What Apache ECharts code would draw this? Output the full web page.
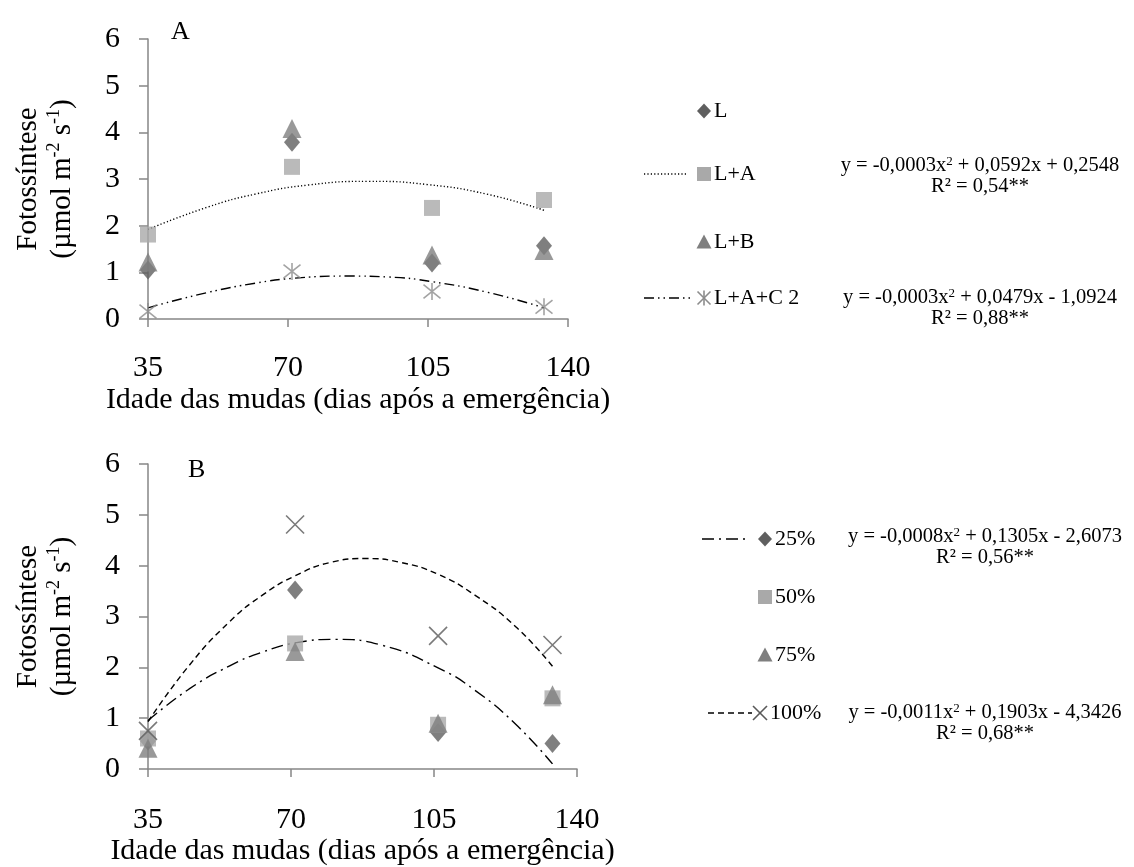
<!DOCTYPE html>
<html>
<head>
<meta charset="utf-8">
<script src="https://cdn.jsdelivr.net/npm/echarts@6/dist/echarts.min.js"></script>
<style>
html, body { margin: 0; padding: 0; background: #ffffff; }
#chart { width: 1134px; height: 867px; }
</style>
</head>
<body>
<div id="chart"></div>
<script>
// Seedling age at each sampling (days after emergence)
const ages = [35, 71, 106, 134];
const xTicks = [35, 70, 105, 140];
const yTicks = [0, 1, 2, 3, 4, 5, 6];

// Panel A: photosynthesis by substrate
const aL = [1.05, 3.79, 1.20, 1.57];
const aLA = [1.81, 3.26, 2.38, 2.55];
const aLB = [1.22, 4.08, 1.37, 1.47];
const aLAC2 = [0.16, 1.02, 0.59, 0.26];

// Panel A fitted curves, read along their path
const fitLAx = [35, 50, 62, 75, 90, 105, 120, 134];
const fitLAy = [1.92, 2.40, 2.68, 2.87, 2.95, 2.88, 2.67, 2.33];
const fitLAC2x = [35, 50, 62, 71, 85, 95, 106, 120, 134];
const fitLAC2y = [0.24, 0.57, 0.77, 0.87, 0.92, 0.90, 0.80, 0.57, 0.24];

// Panel B: photosynthesis by shading level
const b25 = [0.55, 3.52, 0.72, 0.50];
const b50 = [0.60, 2.47, 0.87, 1.39];
const b75 = [0.41, 2.31, 0.90, 1.46];
const b100 = [0.75, 4.81, 2.62, 2.44];

// Panel B fitted curves, read along their path
const fit25x = [35, 45, 55, 63, 71, 81, 92, 106, 115, 125, 134];
const fit25y = [0.95, 1.57, 2.03, 2.30, 2.48, 2.55, 2.44, 1.99, 1.55, 0.88, 0.10];
const fit100x = [35, 45, 55, 63, 71, 80, 88, 97, 106, 115, 125, 134];
const fit100y = [0.93, 2.03, 2.90, 3.42, 3.80, 4.07, 4.14, 4.06, 3.83, 3.42, 2.80, 2.02];

// Legend labels and regression equations
const namesA = ['L', 'L+A', 'L+B', 'L+A+C 2'];
const namesB = ['25%', '50%', '75%', '100%'];
const eqA1 = ['y = -0,0003x{sup|2} + 0,0592x + 0,2548', 'R² = 0,54**'];
const eqA2 = ['y = -0,0003x{sup|2} + 0,0479x - 1,0924', 'R² = 0,88**'];
const eqB1 = ['y = -0,0008x{sup|2} + 0,1305x - 2,6073', 'R² = 0,56**'];
const eqB2 = ['y = -0,0011x{sup|2} + 0,1903x - 4,3426', 'R² = 0,68**'];

const FONT = '"Liberation Serif", "Times New Roman", serif';
const AXIS_GREY = '#868686';
const C_DIAMOND = '#5f5f5f';
const C_SQUARE = '#a9a9a9';
const C_TRIANGLE = '#7f7f7f';
const C_STAR = '#8c8c8c';
const C_CROSS = '#595959';

const STAR_PATH = 'path://M1,1L9,9M9,1L1,9M5,0L5,10';
const CROSS_PATH = 'path://M0,0L10,10M10,0L0,10';

// Dash patterns of the trend lines
const DOTTED = [1.2, 2.2];
const DASH_DOT_DOT = [10, 4, 1.5, 4, 1.5, 4];
const DASH_DOT = [12, 5, 2, 5];
const DASHED = [6, 4];

const AXIS_FONT = 30;

const pairs = (xs, ys) => xs.map((x, i) => [x, ys[i]]);

function xAxisCfg(gridIndex, nameGap, labelMargin) {
  return {
    type: 'value', gridIndex,
    min: xTicks[0], max: xTicks[xTicks.length - 1], interval: xTicks[1] - xTicks[0],
    axisLine: { show: true, lineStyle: { color: AXIS_GREY, width: 1.5 } },
    axisTick: { show: true, length: 8, lineStyle: { color: AXIS_GREY, width: 1.5 } },
    axisLabel: { fontFamily: FONT, fontSize: AXIS_FONT, color: '#000', margin: labelMargin },
    splitLine: { show: false },
    name: 'Idade das mudas (dias após a emergência)',
    nameLocation: 'middle', nameGap,
    nameTextStyle: { fontFamily: FONT, fontSize: AXIS_FONT, color: '#000' }
  };
}

function yAxisCfg(gridIndex) {
  return {
    type: 'value', gridIndex,
    min: yTicks[0], max: yTicks[yTicks.length - 1], interval: yTicks[1] - yTicks[0],
    axisLine: { show: true, onZero: false, lineStyle: { color: AXIS_GREY, width: 1.5 } },
    axisTick: { show: true, length: 9, lineStyle: { color: AXIS_GREY, width: 1.5 } },
    axisLabel: { fontFamily: FONT, fontSize: AXIS_FONT, color: '#000', margin: 28 },
    splitLine: { show: false },
    name: 'Fotossíntese\n(µmol m{sup|-2} s{sup|-1})',
    nameLocation: 'middle', nameGap: 69, nameRotate: 90,
    nameTextStyle: {
      fontFamily: FONT, fontSize: 29, color: '#000', lineHeight: 34,
      rich: { sup: { fontFamily: FONT, fontSize: 18, color: '#000', verticalAlign: 'top', lineHeight: 20 } }
    }
  };
}

function scatter(name, idx, ys, symbol, size, itemStyle) {
  return {
    name, type: 'scatter', xAxisIndex: idx, yAxisIndex: idx,
    data: pairs(ages, ys), symbol, symbolSize: size, itemStyle, z: 3
  };
}

function trend(idx, xs, ys, dash) {
  return {
    type: 'line', xAxisIndex: idx, yAxisIndex: idx, data: pairs(xs, ys),
    smooth: true, symbol: 'none', silent: true, z: 2,
    lineStyle: { color: '#000', width: 1.4, type: dash }
  };
}

const strokeOnly = (c) => ({ color: 'rgba(0,0,0,0)', borderColor: c, borderWidth: 1.6 });

// Legend keys: small marker shapes, line samples and labels
function markerShape(kind, cx, cy) {
  if (kind === 'diamond') {
    return { type: 'polygon', shape: { points: [[cx, cy - 7.5], [cx + 7, cy], [cx, cy + 7.5], [cx - 7, cy]] }, style: { fill: C_DIAMOND } };
  }
  if (kind === 'square') {
    return { type: 'rect', shape: { x: cx - 7, y: cy - 7, width: 14, height: 14 }, style: { fill: C_SQUARE } };
  }
  if (kind === 'triangle') {
    return { type: 'polygon', shape: { points: [[cx, cy - 7.5], [cx + 7.5, cy + 6.5], [cx - 7.5, cy + 6.5]] }, style: { fill: C_TRIANGLE } };
  }
  if (kind === 'star') {
    return { type: 'group', children: [
      { type: 'line', shape: { x1: cx - 6.5, y1: cy - 6.5, x2: cx + 6.5, y2: cy + 6.5 }, style: { stroke: C_STAR, lineWidth: 1.6 } },
      { type: 'line', shape: { x1: cx + 6.5, y1: cy - 6.5, x2: cx - 6.5, y2: cy + 6.5 }, style: { stroke: C_STAR, lineWidth: 1.6 } },
      { type: 'line', shape: { x1: cx, y1: cy - 7.5, x2: cx, y2: cy + 7.5 }, style: { stroke: C_STAR, lineWidth: 1.6 } }
    ] };
  }
  return { type: 'group', children: [
    { type: 'line', shape: { x1: cx - 7, y1: cy - 7, x2: cx + 7, y2: cy + 7 }, style: { stroke: C_CROSS, lineWidth: 1.6 } },
    { type: 'line', shape: { x1: cx + 7, y1: cy - 7, x2: cx - 7, y2: cy + 7 }, style: { stroke: C_CROSS, lineWidth: 1.6 } }
  ] };
}

function lineSample(x1, x2, y, dash) {
  return { type: 'line', shape: { x1, y1: y, x2, y2: y }, style: { stroke: '#000', lineWidth: 1.6, lineDash: dash } };
}

function label(text, x, y) {
  return { type: 'text', x, y, style: { text, fontFamily: FONT, fontSize: 22, fill: '#000', textVerticalAlign: 'middle' } };
}

function equation(lines, cx, y) {
  return { type: 'text', x: cx, y, style: {
    text: lines[0] + '\n' + lines[1], fontFamily: FONT, fontSize: 20.5, lineHeight: 21, fill: '#000',
    textAlign: 'center', textVerticalAlign: 'middle', align: 'center',
    rich: { sup: { fontFamily: FONT, fontSize: 13, verticalAlign: 'top', lineHeight: 14 } }
  } };
}

const chart = echarts.init(document.getElementById('chart'), null, { renderer: 'canvas' });

chart.setOption({
  animation: false,
  backgroundColor: '#ffffff',
  grid: [
    { left: 148, top: 39, width: 420, height: 280 },
    { left: 148, top: 464, width: 429, height: 305 }
  ],
  xAxis: [xAxisCfg(0, 66, 34), xAxisCfg(1, 66, 36)],
  yAxis: [yAxisCfg(0), yAxisCfg(1)],
  series: [
    trend(0, fitLAx, fitLAy, DOTTED),
    trend(0, fitLAC2x, fitLAC2y, DASH_DOT_DOT),
    scatter(namesA[0], 0, aL, 'diamond', [16, 19], { color: C_DIAMOND }),
    scatter(namesA[1], 0, aLA, 'rect', 16, { color: C_SQUARE }),
    scatter(namesA[2], 0, aLB, 'triangle', 19, { color: C_TRIANGLE }),
    scatter(namesA[3], 0, aLAC2, STAR_PATH, 17, strokeOnly(C_STAR)),

    trend(1, fit25x, fit25y, DASH_DOT),
    trend(1, fit100x, fit100y, DASHED),
    scatter(namesB[0], 1, b25, 'diamond', [16, 19], { color: C_DIAMOND }),
    scatter(namesB[1], 1, b50, 'rect', 16, { color: C_SQUARE }),
    scatter(namesB[2], 1, b75, 'triangle', 19, { color: C_TRIANGLE }),
    scatter(namesB[3], 1, b100, CROSS_PATH, 18, strokeOnly(C_CROSS))
  ],
  graphic: [
    { type: 'text', x: 171, y: 19, style: { text: 'A', fontFamily: FONT, fontSize: 26, fill: '#000' } },
    { type: 'text', x: 188, y: 457, style: { text: 'B', fontFamily: FONT, fontSize: 26, fill: '#000' } },

    markerShape('diamond', 704, 111), label(namesA[0], 714, 111),
    lineSample(644, 688, 174, DOTTED), markerShape('square', 704, 174), label(namesA[1], 714, 174),
    markerShape('triangle', 704, 242), label(namesA[2], 714, 242),
    lineSample(644, 690, 298, DASH_DOT_DOT), markerShape('star', 704, 298), label(namesA[3], 714, 298),
    equation(eqA1, 980, 176),
    equation(eqA2, 980, 308),

    lineSample(702, 748, 539, DASH_DOT), markerShape('diamond', 765, 539), label(namesB[0], 775, 539),
    markerShape('square', 765, 597), label(namesB[1], 775, 597),
    markerShape('triangle', 765, 655), label(namesB[2], 775, 655),
    lineSample(708, 752, 713, DASHED), markerShape('cross', 760, 713), label(namesB[3], 770, 713),
    equation(eqB1, 985, 547),
    equation(eqB2, 985, 723)
  ]
});
</script>
</body>
</html>
